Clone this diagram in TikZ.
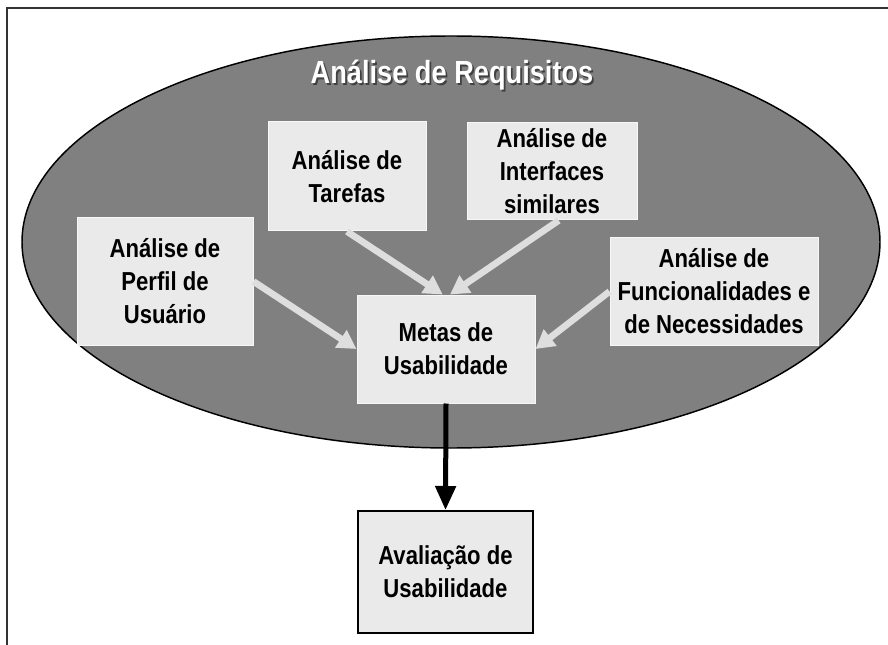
\documentclass[tikz,border=0pt]{standalone}
\usepackage{fontspec}
\newfontfamily\boxfont{Liberation Sans}[FakeStretch=0.85]
\usetikzlibrary{shapes.geometric,arrows.meta}
\definecolor{ovalgray}{RGB}{128,128,128}
\definecolor{boxgray}{RGB}{234,234,234}
\definecolor{feedgray}{RGB}{222,222,222}
\newcommand{\shadowed}[1]{{\color{black!75}\rlap{\hspace{1.3pt}\raisebox{-1.3pt}{#1}}}{\color{white}#1}}
\tikzset{
  box/.style={draw=white!60!boxgray, line width=0.75, fill=boxgray, align=center, inner sep=0pt,
    font=\boxfont\bfseries\fontsize{19.5}{24.75}\selectfont},
  feed/.style={draw=feedgray, line width=5pt, -{Triangle[width=15pt,length=14pt,fill=feedgray]}},
}

\begin{document}
\begin{tikzpicture}[x=0.75pt,y=0.75pt,yscale=-1,xscale=1]
\useasboundingbox (0,0) rectangle (888,645);
%Frame
\draw [line width=1.1, color=black!80] (7,645) -- (7,8) -- (888,8);
%Ellipse
\node (req) [ellipse, draw, line width=1.1, fill=ovalgray, inner sep=0pt, minimum width=643.5pt, minimum height=309pt] at (451,242) {};
% Text Node
\node (reqtitle) [font=\boxfont\bfseries\fontsize{24}{28}\selectfont] at (452,76) {\shadowed{Análise de Requisitos}};
%Boxes
\node (ta) [box, minimum width=118.5pt, minimum height=81.75pt] at (347,176.5) {Análise de\\Tarefas};
\node (in) [box, minimum width=127.5pt, minimum height=72.75pt] at (552,171.5) {Análise de\\Interfaces\\similares};
\node (pe) [box, minimum width=132pt, minimum height=95.25pt] at (165,281.5) {Análise de\\Perfil de\\Usuário};
\node (me) [box, minimum width=133.5pt, minimum height=81pt] at (446,349) {Metas de\\Usabilidade};
\node (fu) [box, minimum width=156pt, minimum height=80.25pt] at (714,291.5) {Análise de\\Funcionalidades e\\de Necessidades};
\node (av) [box, draw=black, line width=1.5, minimum width=131.25pt, minimum height=91.5pt] at (445.5,572) {Avaliação de\\Usabilidade};
%Arrows
\draw [feed] (ta.south) -- ([xshift=-2.5pt]me.north);
\draw [feed] ([xshift=5pt]in.south) -- ([xshift=3pt]me.north);
\draw [feed] (pe.east) -- (me.west);
\draw [feed] (fu.west) -- (me.east);
\draw [line width=3.75pt, -{Triangle[width=15pt,length=18pt]}] (me.south) -- (av.north);
\end{tikzpicture}
\end{document}
